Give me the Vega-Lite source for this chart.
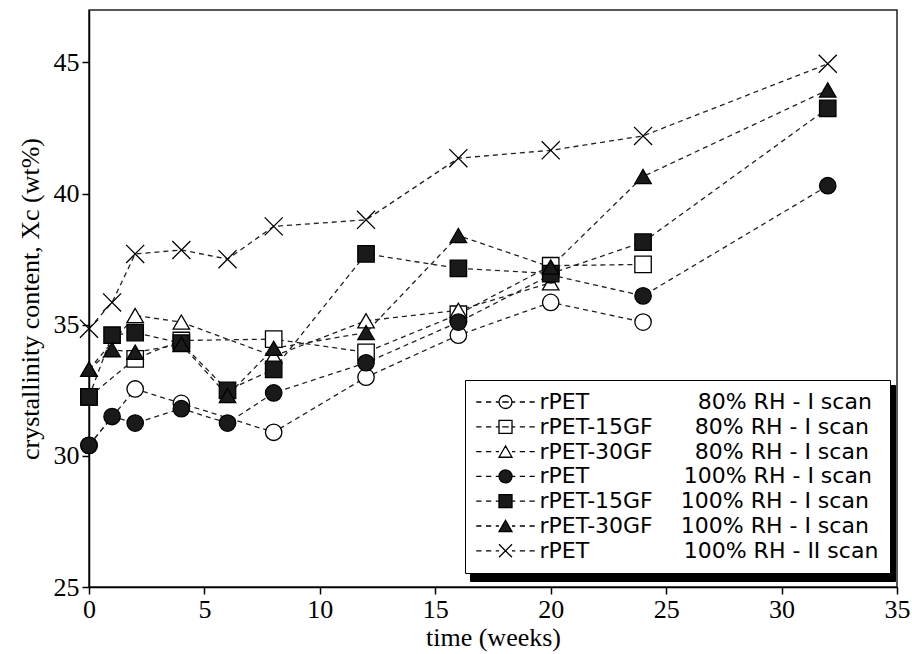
{
  "$schema": "https://vega.github.io/schema/vega-lite/v6.json",
  "width": 808,
  "height": 577,
  "autosize": {"type": "none"},
  "padding": {"left": 89, "top": 10, "right": 15, "bottom": 67},
  "background": "white",
  "config": {
    "view": {"stroke": "#222", "strokeWidth": 1.5},
    "axis": {
      "grid": false,
      "domainColor": "black",
      "domainWidth": 1.5,
      "tickColor": "black",
      "tickWidth": 1.5,
      "tickSize": 7,
      "labelFont": "Liberation Serif",
      "labelFontSize": 26,
      "labelColor": "black",
      "titleFont": "Liberation Serif",
      "titleFontSize": 26,
      "titleFontWeight": "normal",
      "titleColor": "black"
    }
  },
  "data": {
    "values": [
      {"s": "rPET 80%", "t": 0, "xc": 30.4},
      {"s": "rPET 80%", "t": 2, "xc": 32.55},
      {"s": "rPET 80%", "t": 4, "xc": 32.0},
      {"s": "rPET 80%", "t": 8, "xc": 30.9},
      {"s": "rPET 80%", "t": 12, "xc": 33.0},
      {"s": "rPET 80%", "t": 16, "xc": 34.6},
      {"s": "rPET 80%", "t": 20, "xc": 35.85},
      {"s": "rPET 80%", "t": 24, "xc": 35.1},
      {"s": "rPET-15GF 80%", "t": 0, "xc": 32.25},
      {"s": "rPET-15GF 80%", "t": 2, "xc": 33.7},
      {"s": "rPET-15GF 80%", "t": 4, "xc": 34.4},
      {"s": "rPET-15GF 80%", "t": 8, "xc": 34.45},
      {"s": "rPET-15GF 80%", "t": 12, "xc": 33.95},
      {"s": "rPET-15GF 80%", "t": 16, "xc": 35.4},
      {"s": "rPET-15GF 80%", "t": 20, "xc": 37.25},
      {"s": "rPET-15GF 80%", "t": 24, "xc": 37.3},
      {"s": "rPET-30GF 80%", "t": 0, "xc": 33.3},
      {"s": "rPET-30GF 80%", "t": 2, "xc": 35.35},
      {"s": "rPET-30GF 80%", "t": 4, "xc": 35.1},
      {"s": "rPET-30GF 80%", "t": 8, "xc": 33.8},
      {"s": "rPET-30GF 80%", "t": 12, "xc": 35.15},
      {"s": "rPET-30GF 80%", "t": 16, "xc": 35.55},
      {"s": "rPET-30GF 80%", "t": 20, "xc": 36.6},
      {"s": "rPET 100%", "t": 0, "xc": 30.4},
      {"s": "rPET 100%", "t": 1, "xc": 31.5},
      {"s": "rPET 100%", "t": 2, "xc": 31.25},
      {"s": "rPET 100%", "t": 4, "xc": 31.8},
      {"s": "rPET 100%", "t": 6, "xc": 31.25},
      {"s": "rPET 100%", "t": 8, "xc": 32.4},
      {"s": "rPET 100%", "t": 12, "xc": 33.55},
      {"s": "rPET 100%", "t": 16, "xc": 35.1},
      {"s": "rPET 100%", "t": 20, "xc": 36.9},
      {"s": "rPET 100%", "t": 24, "xc": 36.1},
      {"s": "rPET 100%", "t": 32, "xc": 40.3},
      {"s": "rPET-15GF 100%", "t": 0, "xc": 32.25},
      {"s": "rPET-15GF 100%", "t": 1, "xc": 34.6},
      {"s": "rPET-15GF 100%", "t": 2, "xc": 34.7},
      {"s": "rPET-15GF 100%", "t": 4, "xc": 34.3},
      {"s": "rPET-15GF 100%", "t": 6, "xc": 32.5},
      {"s": "rPET-15GF 100%", "t": 8, "xc": 33.3},
      {"s": "rPET-15GF 100%", "t": 12, "xc": 37.7},
      {"s": "rPET-15GF 100%", "t": 16, "xc": 37.15},
      {"s": "rPET-15GF 100%", "t": 20, "xc": 36.95},
      {"s": "rPET-15GF 100%", "t": 24, "xc": 38.15},
      {"s": "rPET-15GF 100%", "t": 32, "xc": 43.25},
      {"s": "rPET-30GF 100%", "t": 0, "xc": 33.3},
      {"s": "rPET-30GF 100%", "t": 1, "xc": 34.05},
      {"s": "rPET-30GF 100%", "t": 2, "xc": 33.95},
      {"s": "rPET-30GF 100%", "t": 4, "xc": 34.25},
      {"s": "rPET-30GF 100%", "t": 6, "xc": 32.3},
      {"s": "rPET-30GF 100%", "t": 8, "xc": 34.1},
      {"s": "rPET-30GF 100%", "t": 12, "xc": 34.7},
      {"s": "rPET-30GF 100%", "t": 16, "xc": 38.4},
      {"s": "rPET-30GF 100%", "t": 20, "xc": 37.2},
      {"s": "rPET-30GF 100%", "t": 24, "xc": 40.65},
      {"s": "rPET-30GF 100%", "t": 32, "xc": 43.95},
      {"s": "rPET 100% II", "t": 0, "xc": 34.85},
      {"s": "rPET 100% II", "t": 1, "xc": 35.85},
      {"s": "rPET 100% II", "t": 2, "xc": 37.7},
      {"s": "rPET 100% II", "t": 4, "xc": 37.85},
      {"s": "rPET 100% II", "t": 6, "xc": 37.5},
      {"s": "rPET 100% II", "t": 8, "xc": 38.75},
      {"s": "rPET 100% II", "t": 12, "xc": 39.0},
      {"s": "rPET 100% II", "t": 16, "xc": 41.35},
      {"s": "rPET 100% II", "t": 20, "xc": 41.65},
      {"s": "rPET 100% II", "t": 24, "xc": 42.2},
      {"s": "rPET 100% II", "t": 32, "xc": 44.95}
    ]
  },
  "encoding": {
    "x": {
      "field": "t",
      "type": "quantitative",
      "scale": {"domain": [0, 35], "nice": false, "zero": false},
      "axis": {"values": [0, 5, 10, 15, 20, 25, 30, 35], "title": "time (weeks)", "labelPadding": 2, "titlePadding": 2, "labelFlush": false}
    },
    "y": {
      "field": "xc",
      "type": "quantitative",
      "scale": {"domain": [25, 47], "nice": false, "zero": false},
      "axis": {"values": [25, 30, 35, 40, 45], "title": "crystallinity content, Xc (wt%)", "labelPadding": 3, "titlePadding": 10}
    }
  },
  "resolve": {
    "scale": {"shape": "independent", "fill": "independent", "stroke": "independent"},
    "legend": {"shape": "independent", "fill": "independent", "stroke": "independent"}
  },
  "layer": [
    {
      "mark": {"type": "line", "strokeDash": [5, 4], "strokeWidth": 1.3, "color": "#222"},
      "encoding": {"detail": {"field": "s"}}
    },
    {
      "mark": {"type": "point", "filled": true, "stroke": "black", "strokeWidth": 1.3, "size": 270, "opacity": 1},
      "encoding": {
        "shape": {
          "field": "s",
          "type": "nominal",
          "scale": {
            "domain": ["rPET 80%", "rPET-15GF 80%", "rPET-30GF 80%", "rPET 100%", "rPET-15GF 100%", "rPET-30GF 100%", "rPET 100% II"],
            "range": ["circle", "square", "triangle-up", "circle", "square", "triangle-up", "M-1.1,-1.1L1.1,1.1M-1.1,1.1L1.1,-1.1"]
          },
          "legend": null
        },
        "fill": {
          "field": "s",
          "type": "nominal",
          "scale": {
            "domain": ["rPET 80%", "rPET-15GF 80%", "rPET-30GF 80%", "rPET 100%", "rPET-15GF 100%", "rPET-30GF 100%", "rPET 100% II"],
            "range": ["white", "white", "white", "#1a1a1a", "#1a1a1a", "#1a1a1a", "transparent"]
          },
          "legend": null
        }
      }
    },
    {
      "mark": {"type": "point", "filled": true, "color": "black", "opacity": 0, "size": 10},
      "encoding": {
        "shape": {
          "field": "s",
          "type": "nominal",
          "scale": {
            "domain": ["rPET 100% II", "rPET-30GF 100%", "rPET-15GF 100%", "rPET 100%", "rPET-30GF 80%", "rPET-15GF 80%", "rPET 80%"],
            "range": ["M-4.5,-1.245H57.4V1.245H-4.5Z", "M-4.5,-1.245H57.4V1.245H-4.5Z", "M-4.5,-1.245H57.4V1.245H-4.5Z", "M-4.5,-1.245H57.4V1.245H-4.5Z", "M-4.5,-1.245H57.4V1.245H-4.5Z", "M-4.5,-1.245H57.4V1.245H-4.5Z", "M-4.5,-1.245H57.4V1.245H-4.5Z"]
          },
          "legend": {
            "title": null,
            "orient": "none",
            "legendX": 381,
            "legendY": 375,
            "zindex": 1,
            "padding": 11,
            "rowPadding": 2.8,
            "fillColor": "black",
            "strokeColor": "black",
            "symbolSize": 169,
            "symbolOpacity": 1,
            "symbolFillColor": "black",
            "symbolStrokeColor": "black",
            "symbolOffset": 18.5,
            "labelOffset": 23,
            "labelExpr": "''"
          }
        }
      }
    },
    {
      "mark": {"type": "point", "filled": true, "opacity": 0, "size": 10},
      "encoding": {
        "shape": {
          "field": "s",
          "type": "nominal",
          "scale": {
            "domain": ["rPET 80%", "rPET-15GF 80%", "rPET-30GF 80%", "rPET 100%", "rPET-15GF 100%", "rPET-30GF 100%", "rPET 100% II"],
            "range": [
              "M-4.5,0H-3.7M-3,0H-2.2M-1.5,0H-1M1,0H1.5M2.2,0H3M3.7,0H4.5M-1,0A1,1,0,1,0,1,0A1,1,0,1,0,-1,0ZM-0.5,0H0.5",
              "M-4.5,0H-3.7M-3,0H-2.2M-1.5,0H-1M1,0H1.5M2.2,0H3M3.7,0H4.5M-1,-1H1V1H-1ZM-0.5,0H0.5",
              "M-4.5,0H-3.7M-3,0H-2.2M-1.5,0H-1M1,0H1.5M2.2,0H3M3.7,0H4.5M0,-0.87L1,0.87L-1,0.87Z",
              "M-4.5,0H-3.7M-3,0H-2.2M-1.5,0H-1M1,0H1.5M2.2,0H3M3.7,0H4.5M-1,0A1,1,0,1,0,1,0A1,1,0,1,0,-1,0Z",
              "M-4.5,0H-3.7M-3,0H-2.2M-1.5,0H-1M1,0H1.5M2.2,0H3M3.7,0H4.5M-1,-1H1V1H-1Z",
              "M-4.5,0H-3.7M-3,0H-2.2M-1.5,0H-1M1,0H1.5M2.2,0H3M3.7,0H4.5M0,-0.87L1,0.87L-1,0.87Z",
              "M-4.5,0H-3.7M-3,0H-2.2M-1.5,0H-1M1,0H1.5M2.2,0H3M3.7,0H4.5M-1,-1L1,1M-1,1L1,-1"
            ]
          },
          "legend": {
            "title": null,
            "orient": "none",
            "legendX": 376,
            "legendY": 370,
            "zindex": 2,
            "padding": 11,
            "rowPadding": 2.8,
            "fillColor": "white",
            "strokeColor": "black",
            "symbolSize": 169,
            "symbolOpacity": 1,
            "symbolStrokeWidth": 1.3,
            "symbolOffset": 18.5,
            "labelOffset": 23,
            "labelFont": "DejaVu Sans",
            "labelFontSize": 22,
            "labelColor": "black",
            "labelLimit": 0,
            "labelExpr": "datum.value == 'rPET 80%' ? 'rPET\u00a0\u00a0\u00a0\u00a0\u00a0\u00a0\u00a0\u00a0\u00a0\u00a0\u00a0\u00a0\u00a0\u2006\u200780% RH - I scan' : datum.value == 'rPET-15GF 80%' ? 'rPET-15GF\u00a0\u00a0\u00a0\u00a0\u200780% RH - I scan' : datum.value == 'rPET-30GF 80%' ? 'rPET-30GF\u00a0\u00a0\u00a0\u00a0\u200780% RH - I scan' : datum.value == 'rPET 100%' ? 'rPET\u00a0\u00a0\u00a0\u00a0\u00a0\u00a0\u00a0\u00a0\u00a0\u00a0\u00a0\u00a0\u00a0\u2006100% RH - I scan' : datum.value == 'rPET-15GF 100%' ? 'rPET-15GF\u00a0\u00a0\u00a0\u00a0100% RH - I scan' : datum.value == 'rPET-30GF 100%' ? 'rPET-30GF\u00a0\u00a0\u00a0\u00a0100% RH - I scan' : 'rPET\u00a0\u00a0\u00a0\u00a0\u00a0\u00a0\u00a0\u00a0\u00a0\u00a0\u00a0\u00a0\u00a0\u2006100% RH - II scan'"
          }
        },
        "fill": {
          "field": "s",
          "type": "nominal",
          "scale": {
            "domain": ["rPET 80%", "rPET-15GF 80%", "rPET-30GF 80%", "rPET 100%", "rPET-15GF 100%", "rPET-30GF 100%", "rPET 100% II"],
            "range": ["white", "white", "white", "#1a1a1a", "#1a1a1a", "#1a1a1a", "transparent"]
          }
        },
        "stroke": {
          "field": "s",
          "type": "nominal",
          "scale": {
            "domain": ["rPET 80%", "rPET-15GF 80%", "rPET-30GF 80%", "rPET 100%", "rPET-15GF 100%", "rPET-30GF 100%", "rPET 100% II"],
            "range": ["black", "black", "black", "black", "black", "black", "black"]
          }
        }
      }
    }
  ]
}
